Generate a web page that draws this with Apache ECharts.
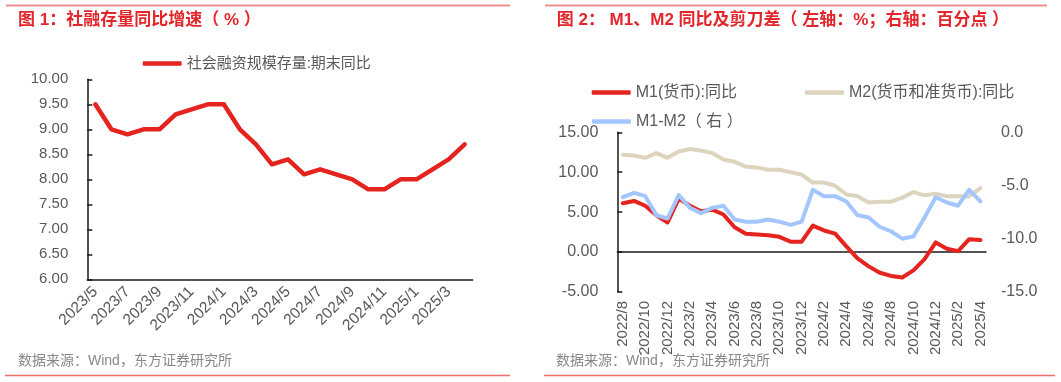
<!DOCTYPE html>
<html><head><meta charset="utf-8">
<script src="https://cdn.jsdelivr.net/npm/echarts@6/dist/echarts.min.js"></script>
<style>html,body{margin:0;padding:0;background:#fff}#c{width:1061px;height:382px}</style>
</head><body><div id="c"></div>
<script>
// ---- Chart 1 data ----
const months1 = ["2023/5","2023/6","2023/7","2023/8","2023/9","2023/10","2023/11","2023/12",
  "2024/1","2024/2","2024/3","2024/4","2024/5","2024/6","2024/7","2024/8","2024/9","2024/10","2024/11","2024/12",
  "2025/1","2025/2","2025/3","2025/4"];
const tsfGrowth = [9.5,9.0,8.9,9.0,9.0,9.3,9.4,9.5,9.5,9.0,8.7,8.3,8.4,8.1,8.2,8.1,8.0,7.8,7.8,8.0,8.0,8.2,8.4,8.7];

// ---- Chart 2 data ----
const months2 = ["2022/8","2022/9","2022/10","2022/11","2022/12",
  "2023/1","2023/2","2023/3","2023/4","2023/5","2023/6","2023/7","2023/8","2023/9","2023/10","2023/11","2023/12",
  "2024/1","2024/2","2024/3","2024/4","2024/5","2024/6","2024/7","2024/8","2024/9","2024/10","2024/11","2024/12",
  "2025/1","2025/2","2025/3","2025/4"];
const m1Yoy = [6.1,6.4,5.8,4.6,3.7,6.7,5.8,5.1,5.3,4.7,3.1,2.3,2.2,2.1,1.9,1.3,1.3,3.3,2.7,2.3,0.7,-0.8,-1.8,-2.6,-3.0,-3.2,-2.3,-0.9,1.2,0.4,0.1,1.6,1.5];
const m2Yoy = [12.2,12.1,11.8,12.4,11.8,12.6,12.9,12.7,12.4,11.6,11.3,10.7,10.6,10.3,10.3,10.0,9.7,8.7,8.7,8.3,7.2,7.0,6.2,6.3,6.3,6.8,7.5,7.1,7.3,7.0,7.0,7.0,8.0];
const m1m2Gap = [-6.1,-5.7,-6.0,-7.8,-8.1,-5.9,-7.1,-7.6,-7.1,-6.9,-8.2,-8.4,-8.4,-8.2,-8.4,-8.7,-8.4,-5.4,-6.0,-6.0,-6.5,-7.8,-8.0,-8.9,-9.3,-10.0,-9.8,-8.0,-6.1,-6.6,-6.9,-5.4,-6.5];

const name1 = '社会融资规模存量:期末同比';
const nameM1 = 'M1(货币):同比';
const nameM2 = 'M2(货币和准货币):同比';
const nameGap = 'M1-M2（ 右 ）';

const FONT = '"Liberation Sans", Arial, "Noto Sans CJK SC", sans-serif';
const GREY = '#595959';
const RED = '#E5231F';
const BEIGE = '#DDD4BE';
const BLUE = '#A3C6FF';
const TITLE_RED = '#E3262B';
const AXIS = '#1a1a1a';

const chart = echarts.init(document.getElementById('c'));
function legendAt(name, left, top, fs) {
  return {data:[name], left:left, top:top, padding:0, icon:'roundRect', itemWidth:39, itemHeight:4.5,
    textStyle:{fontSize:fs, color:GREY, fontFamily:FONT}};
}
chart.setOption({
  animation:false,
  textStyle:{fontFamily:FONT},
  legend:[
    legendAt(name1, 142.7, 56, 15),
    legendAt(nameM1, 591.7, 84.5, 16),
    legendAt(nameM2, 805, 84.5, 16),
    legendAt(nameGap, 592, 113.5, 16)
  ],
  grid:[
    {left:87.3, top:79.3, width:385.4, height:200},
    {left:617.3, top:132.3, width:368.7, height:159.6}
  ],
  xAxis:[
    {gridIndex:0, type:'category', data:months1, boundaryGap:true,
      axisLine:{lineStyle:{color:AXIS, width:1.5}},
      axisTick:{inside:true, length:5, interval:1, lineStyle:{color:AXIS, width:1.5}},
      axisLabel:{interval:1, rotate:45, fontSize:15.5, color:GREY, margin:10}},
    {gridIndex:1, type:'category', data:months2, boundaryGap:true,
      axisLine:{onZero:true, onZeroAxisIndex:1, lineStyle:{color:AXIS, width:1.5}},
      axisTick:{inside:true, length:5, interval:1, lineStyle:{color:AXIS, width:1.5}},
      axisLabel:{interval:1, rotate:90, fontSize:15, color:GREY, margin:9}}
  ],
  yAxis:[
    {gridIndex:0, type:'value', min:6, max:10, interval:0.5,
      axisLine:{show:true, lineStyle:{color:AXIS, width:1.5}},
      axisTick:{show:true, inside:true, length:5, lineStyle:{color:AXIS, width:1.5}},
      splitLine:{show:false},
      axisLabel:{formatter:v=>v.toFixed(2), fontSize:15, color:GREY, margin:19}},
    {gridIndex:1, type:'value', min:-5, max:15, interval:5,
      axisLine:{show:true, lineStyle:{color:AXIS, width:1.5}},
      axisTick:{show:true, inside:true, length:5, lineStyle:{color:AXIS, width:1.5}},
      splitLine:{show:false},
      axisLabel:{formatter:v=>v.toFixed(2), fontSize:16, color:GREY, margin:19}},
    {gridIndex:1, type:'value', position:'right', min:-15, max:0, interval:5,
      axisLine:{show:false}, axisTick:{show:false}, splitLine:{show:false},
      axisLabel:{formatter:v=>v.toFixed(1), fontSize:16, color:GREY, margin:15}}
  ],
  series:[
    {name:name1, type:'line', xAxisIndex:0, yAxisIndex:0, data:tsfGrowth, symbol:'none',
      color:RED, lineStyle:{width:4.5, color:RED, cap:'round', join:'round'}},
    {name:nameM1, type:'line', xAxisIndex:1, yAxisIndex:1, data:m1Yoy, symbol:'none',
      color:RED, lineStyle:{width:4, color:RED, cap:'round', join:'round'}},
    {name:nameM2, type:'line', xAxisIndex:1, yAxisIndex:1, data:m2Yoy, symbol:'none',
      color:BEIGE, lineStyle:{width:4, color:BEIGE, cap:'round', join:'round'}},
    {name:nameGap, type:'line', xAxisIndex:1, yAxisIndex:2, data:m1m2Gap, symbol:'none',
      color:BLUE, lineStyle:{width:4, color:BLUE, cap:'round', join:'round'}}
  ],
  graphic:[
    {type:'line', shape:{x1:6, y1:5.5, x2:510, y2:5.5}, style:{stroke:'#F0908C', lineWidth:2}},
    {type:'line', shape:{x1:545, y1:5.5, x2:1047, y2:5.5}, style:{stroke:'#F0908C', lineWidth:2}},
    {type:'line', shape:{x1:5, y1:375.5, x2:510, y2:375.5}, style:{stroke:'#EF6F6B', lineWidth:1.5}},
    {type:'line', shape:{x1:544, y1:375.5, x2:1055, y2:375.5}, style:{stroke:'#EF6F6B', lineWidth:1.5}},
    {type:'text', left:18, top:12, style:{text:'图 1：社融存量同比增速（ % ）', font:'bold 17px ' + FONT, fill:TITLE_RED}},
    {type:'text', left:556.7, top:12, style:{text:'图 2： M1、M2 同比及剪刀差（ 左轴：%；右轴：百分点 ）', font:'bold 17px ' + FONT, fill:TITLE_RED}},
    {type:'text', left:18, top:354, style:{text:'数据来源：Wind，东方证券研究所', font:'14px ' + FONT, fill:'#888888'}},
    {type:'text', left:556, top:354, style:{text:'数据来源：Wind，东方证券研究所', font:'14px ' + FONT, fill:'#888888'}}
  ]
});
</script>
</body></html>
